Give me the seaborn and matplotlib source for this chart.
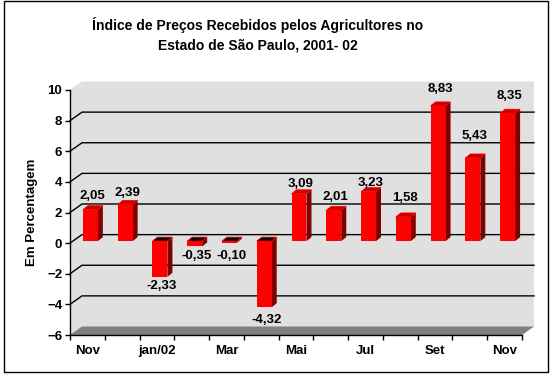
import numpy as np
import matplotlib
matplotlib.use('Agg')
import matplotlib.pyplot as plt
import seaborn as sns
from matplotlib.patches import Polygon, Rectangle
from matplotlib.transforms import ScaledTranslation

# Data
months = ['nov/01', 'dez/01', 'jan/02', 'fev/02', 'mar/02', 'abr/02', 'mai/02',
          'jun/02', 'jul/02', 'ago/02', 'set/02', 'out/02', 'nov/02']
values = [2.05, 2.39, -2.33, -0.35, -0.10, -4.32, 3.09, 2.01, 3.23, 1.58, 8.83, 5.43, 8.35]
tick_labels = ['Nov', '', 'jan/02', '', 'Mar', '', 'Mai', '', 'Jul', '', 'Set', '', 'Nov']

# label offsets in pixels (as placed in the original chart)
label_dy = [16, 14, -7, -8, -11, -11, 12, 15, 11, 21, 19, 24, 19]

plt.rcParams['font.family'] = ['Liberation Sans', 'DejaVu Sans']
plt.rcParams['font.weight'] = 'bold'

W, H = 555, 378
fig = plt.figure(figsize=(W / 100, H / 100), dpi=100)
fig.patch.set_facecolor('white')
ax_l, ax_r, ax_t, ax_b = 70, 522, 90, 335
ax = fig.add_axes([ax_l / W, 1 - ax_b / H, (ax_r - ax_l) / W, (ax_b - ax_t) / H])
ax.set_facecolor('none')

n = len(values)
ymin, ymax = -6, 10
px_x = (ax_r - ax_l) / n
px_y = (ax_b - ax_t) / (ymax - ymin)

# back wall / floor offset
DX, DY = 12 / px_x, 8.5 / px_y
x0, x1 = -0.5, n - 0.5
wall = Polygon([(x0, ymin), (x0, ymax), (x0 + DX, ymax + DY), (x1 + DX, ymax + DY),
                (x1 + DX, ymin + DY), (x1, ymin)], closed=True,
               fc='#e0e0e0', ec='none', zorder=0, clip_on=False)
ax.add_patch(wall)
floor = Polygon([(x0, ymin), (x0 + DX, ymin + DY), (x1 + DX, ymin + DY), (x1, ymin)],
                closed=True, fc='#808080', ec='none', zorder=0.5, clip_on=False)
ax.add_patch(floor)
for g in range(-4, 10, 2):
    ax.plot([x0, x0 + DX, x1 + DX], [g, g + DY, g + DY], color='black', lw=1,
            zorder=1, clip_on=False)

# bars
sns.barplot(x=months, y=values, color='#ff0000', saturation=1, width=0.43,
            errorbar=None, ax=ax, zorder=3, linewidth=0)
shift = ax.transData + ScaledTranslation(3 / 100, 2 / 100, fig.dpi_scale_trans)
bdx, bdy = 5 / px_x, 4 / px_y
for p, v in zip(list(ax.patches)[-n:], values):
    p.set_transform(shift)
    p.set_clip_on(False)
    a, b = p.get_x(), p.get_x() + p.get_width()
    lo, hi = min(0, v), max(0, v)
    side = Polygon([(b, lo), (b, hi), (b + bdx, hi + bdy), (b + bdx, lo + bdy)],
                   fc='#800000', ec='none', zorder=2.5, transform=shift, clip_on=False)
    top_fc = '#c80000' if v > 0 else '#000000'
    top = Polygon([(a, hi), (b, hi), (b + bdx, hi + bdy), (a + bdx, hi + bdy)],
                  fc=top_fc, ec='#ff0000', lw=0.6, zorder=2.6, transform=shift,
                  clip_on=False)
    ax.add_patch(side)
    ax.add_patch(top)

# value labels
for i, (v, dy) in enumerate(zip(values, label_dy)):
    ax.annotate(f'{v:.2f}'.replace('.', ','), (i, v), xytext=(5, dy),
                textcoords='offset pixels', ha='center', va='center',
                fontsize=9.5, fontweight='bold', zorder=5, annotation_clip=False)

ax.set_xlim(x0, x1)
ax.set_ylim(ymin, ymax)
ax.set_yticks(range(-6, 12, 2))
ax.set_xticks(range(n))
ax.set_xticklabels(tick_labels, fontsize=9.5, fontweight='bold')
ax.set_xticks(np.arange(-0.5, n, 1), minor=True)
ax.tick_params(axis='x', which='major', length=0, pad=7)
ax.tick_params(axis='x', which='minor', length=3.5, width=1, direction='out')
ax.tick_params(axis='y', length=3.5, width=1, pad=2, labelsize=9.5)
for lab in ax.get_yticklabels():
    lab.set_fontweight('bold')
ax.set_xlabel('')
ax.set_ylabel('')
for s in ['top', 'right']:
    ax.spines[s].set_visible(False)
for s in ['left', 'bottom']:
    ax.spines[s].set_color('black')
    ax.spines[s].set_linewidth(1)
    ax.spines[s].set_zorder(4)

fig.text(32 / W, 1 - 212 / H, 'Em Percentagem', rotation=90, ha='center',
         va='center', fontsize=9.5, fontweight='bold')
fig.text(258 / W, 1 - 25 / H, 'Índice de Preços Recebidos pelos Agricultores no',
         ha='center', va='center', fontsize=10, fontweight='bold')
fig.text(258 / W, 1 - 45 / H, 'Estado de São Paulo, 2001- 02',
         ha='center', va='center', fontsize=10, fontweight='bold')

# outer frame
fig.patches.append(Rectangle((4 / W, 6 / H), 544 / W, 371 / H, transform=fig.transFigure,
                             fill=False, ec='black', lw=1))

fig.savefig('out.png', dpi=100)
